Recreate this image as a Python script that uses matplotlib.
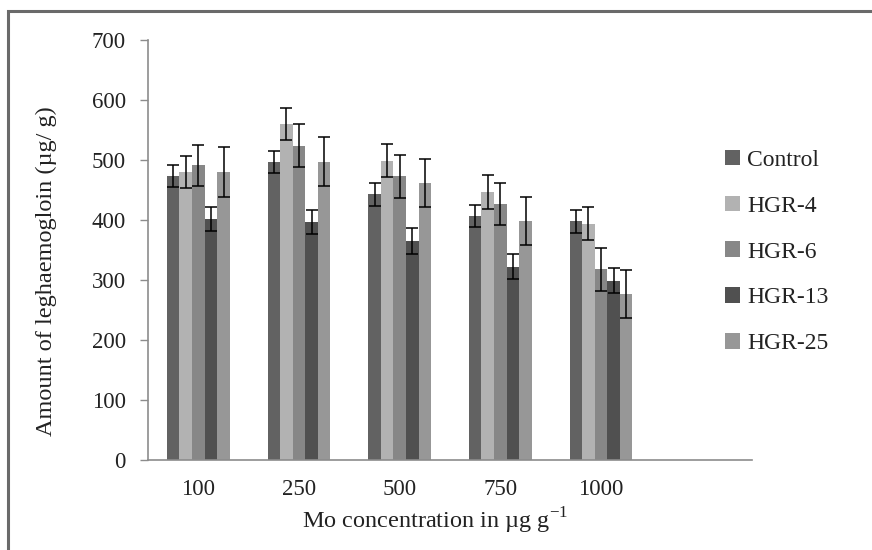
import matplotlib
matplotlib.use("Agg")
import matplotlib.pyplot as plt
import numpy as np
from matplotlib.patches import Rectangle

categories = ["100", "250", "500", "750", "1000"]
series = ["Control", "HGR-4", "HGR-6", "HGR-13", "HGR-25"]
control = [473, 497, 443, 407, 398]
hgr4 = [480, 560, 499, 447, 394]
hgr6 = [491, 524, 473, 427, 318]
hgr13 = [401, 397, 365, 322, 299]
hgr25 = [480, 497, 462, 398, 276]
err_control = [18, 18, 19, 18, 19]
err_hgr4 = [27, 27, 27, 28, 27]
err_hgr6 = [34, 36, 36, 35, 36]
err_hgr13 = [20, 20, 21, 21, 21]
err_hgr25 = [41, 41, 40, 40, 40]

values = [control, hgr4, hgr6, hgr13, hgr25]
errors = [err_control, err_hgr4, err_hgr6, err_hgr13, err_hgr25]
colors = ["#626262", "#b2b2b2", "#878787", "#505050", "#979797"]

plt.rcParams['font.family'] = ['Liberation Serif', 'DejaVu Serif']

fig = plt.figure(figsize=(8.72, 5.5), dpi=100)
ax = fig.add_axes([148/872, 1-460/550, (752-148)/872, (460-40)/550])

x = np.arange(len(categories))
w = 0.125
for i, (vals, errs, c, name) in enumerate(zip(values, errors, colors, series)):
    pos = x + (i - 2) * w
    ax.bar(pos, vals, width=w, color=c, label=name, zorder=2)
    ax.errorbar(pos, vals, yerr=errs, fmt='none', ecolor='black',
                elinewidth=1.1, capsize=4.5, capthick=1.1, zorder=3)

ax.set_xlim(-0.5, 5.5)
ax.set_ylim(0, 700)
ax.set_yticks(range(0, 701, 100))
ax.set_xticks(x)
ax.set_xticklabels(categories)
for s in ['top', 'right']:
    ax.spines[s].set_visible(False)
for s in ['left', 'bottom']:
    ax.spines[s].set_color('#8c8c8c')
    ax.spines[s].set_linewidth(1.2)
ax.tick_params(axis='y', colors='#8c8c8c', length=6, width=1.0, labelcolor='#222222',
               labelsize=16.5, pad=10)
ax.tick_params(axis='x', length=0, labelcolor='#222222', labelsize=16.5, pad=14)

ax.set_ylabel("Amount of leghaemogloin (µg/ g)", fontsize=17.5, color='#222222')
ax.set_xlabel("Mo concentration in µg g$^{\\mathregular{-1}}$", fontsize=17.5, color='#222222')
ax.yaxis.set_label_coords(-0.151, 0.45)
ax.xaxis.set_label_coords(0.475, -0.108)

fs = 17
leg = ax.legend(loc='center left', bbox_to_anchor=(704/872, 1-252/550),
                bbox_transform=fig.transFigure, frameon=False, fontsize=fs,
                handlelength=0.64, handleheight=0.64, handletextpad=0.3,
                labelspacing=1.05)
for t in leg.get_texts():
    t.set_color('#222222')

fig.patches.append(Rectangle((8/872, -0.2), 1.2, 0.2 + 1 - 11/550, transform=fig.transFigure,
                             fill=False, edgecolor='#6a6a6a', linewidth=2.2))

fig.savefig("out.png", dpi=100)
